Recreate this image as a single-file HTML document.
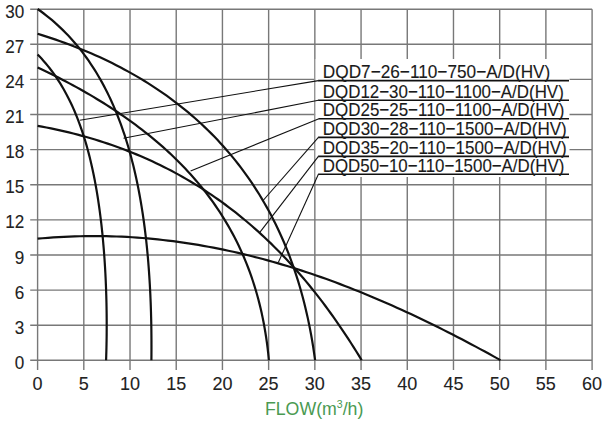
<!DOCTYPE html><html><head><meta charset="utf-8"><style>html,body{margin:0;padding:0;background:#fff;overflow:hidden}svg{display:block}text{font-family:"Liberation Sans",sans-serif}</style></head><body>
<svg width="606" height="422" viewBox="0 0 606 422">
<rect width="606" height="422" fill="#fff"/>
<path d="M37.60 9.20V369.90M83.81 9.20V369.90M130.02 9.20V369.90M176.22 9.20V369.90M222.43 9.20V369.90M268.64 9.20V369.90M314.85 9.20V369.90M361.06 9.20V369.90M407.27 9.20V369.90M453.48 9.20V369.90M499.68 9.20V369.90M545.89 9.20V369.90M592.10 9.20V369.90M30.20 360.30H592.10M30.20 325.19H592.10M30.20 290.08H592.10M30.20 254.97H592.10M30.20 219.86H592.10M30.20 184.75H592.10M30.20 149.64H592.10M30.20 114.53H592.10M30.20 79.42H592.10M30.20 44.31H592.10M30.20 9.20H592.10" stroke="#787878" stroke-width="1.4" fill="none"/>
<path d="M37.60 9.00 L40.43 11.02 L43.43 13.25 L46.37 15.53 L49.26 17.85 L52.10 20.21 L54.88 22.62 L57.61 25.08 L60.29 27.57 L62.92 30.11 L65.49 32.69 L68.02 35.32 L70.50 37.98 L72.93 40.69 L75.31 43.44 L77.64 46.22 L79.93 49.05 L82.17 51.92 L84.36 54.82 L86.51 57.76 L88.61 60.74 L90.67 63.76 L92.69 66.81 L94.66 69.90 L96.59 73.03 L98.47 76.19 L100.32 79.39 L102.12 82.62 L103.88 85.88 L105.61 89.18 L107.29 92.52 L108.93 95.88 L110.54 99.28 L112.10 102.71 L113.63 106.18 L115.12 109.67 L116.57 113.19 L117.99 116.75 L119.37 120.34 L120.72 123.95 L122.03 127.60 L123.30 131.27 L124.55 134.97 L125.75 138.70 L126.93 142.46 L128.07 146.25 L129.18 150.06 L130.25 153.90 L131.30 157.77 L132.31 161.67 L133.30 165.59 L134.25 169.53 L135.17 173.50 L136.07 177.50 L136.93 181.52 L137.76 185.56 L138.57 189.63 L139.35 193.72 L140.10 197.84 L140.82 201.97 L141.52 206.13 L142.19 210.32 L142.83 214.52 L143.45 218.75 L144.04 223.00 L144.61 227.27 L145.15 231.56 L145.66 235.87 L146.16 240.20 L146.63 244.55 L147.07 248.92 L147.49 253.31 L147.89 257.72 L148.27 262.15 L148.62 266.60 L148.95 271.07 L149.26 275.55 L149.55 280.06 L149.82 284.58 L150.06 289.11 L150.29 293.67 L150.49 298.24 L150.68 302.83 L150.84 307.44 L150.99 312.06 L151.11 316.70 L151.22 321.36 L151.31 326.03 L151.37 330.71 L151.42 335.42 L151.46 340.13 L151.47 344.87 L151.47 349.61 L151.45 354.38 L151.41 359.15 L151.40 360.20" stroke="#111" stroke-width="2.2" fill="none" stroke-linejoin="round" stroke-linecap="butt"/>
<path d="M37.60 33.81 L41.90 35.14 L46.52 36.61 L51.11 38.11 L55.67 39.65 L60.20 41.23 L64.70 42.85 L69.16 44.50 L73.60 46.19 L78.00 47.92 L82.37 49.68 L86.71 51.49 L91.02 53.33 L95.30 55.20 L99.54 57.12 L103.76 59.08 L107.94 61.07 L112.09 63.10 L116.20 65.17 L120.28 67.28 L124.33 69.43 L128.35 71.62 L132.34 73.84 L136.29 76.11 L140.20 78.42 L144.08 80.77 L147.93 83.16 L151.75 85.59 L155.53 88.06 L159.27 90.57 L162.98 93.12 L166.66 95.72 L170.30 98.35 L173.90 101.03 L177.47 103.76 L181.00 106.52 L184.50 109.33 L187.96 112.18 L191.38 115.08 L194.77 118.02 L198.11 121.00 L201.43 124.03 L204.70 127.11 L207.93 130.23 L211.13 133.39 L214.29 136.60 L217.41 139.86 L220.49 143.17 L223.53 146.52 L226.53 149.92 L229.49 153.36 L232.41 156.86 L235.29 160.40 L238.13 163.99 L240.93 167.64 L243.68 171.33 L246.40 175.07 L249.07 178.86 L251.70 182.70 L254.28 186.59 L256.83 190.54 L259.33 194.53 L261.78 198.58 L264.19 202.69 L266.56 206.84 L268.88 211.05 L271.16 215.31 L273.39 219.63 L275.57 224.00 L277.71 228.43 L279.80 232.91 L281.84 237.45 L283.84 242.05 L285.79 246.70 L287.69 251.41 L289.54 256.18 L291.34 261.01 L293.09 265.90 L294.79 270.84 L296.45 275.85 L298.05 280.92 L299.59 286.05 L301.09 291.24 L302.54 296.49 L303.93 301.81 L305.27 307.19 L306.56 312.63 L307.79 318.13 L308.97 323.71 L310.09 329.34 L311.16 335.05 L312.17 340.81 L313.12 346.65 L314.02 352.56 L314.86 358.53 L315.09 360.20" stroke="#111" stroke-width="2.2" fill="none" stroke-linejoin="round" stroke-linecap="butt"/>
<path d="M37.60 54.49 L39.61 56.57 L41.73 58.84 L43.80 61.15 L45.82 63.50 L47.78 65.88 L49.70 68.29 L51.57 70.74 L53.39 73.22 L55.17 75.73 L56.90 78.27 L58.58 80.85 L60.23 83.45 L61.83 86.09 L63.39 88.75 L64.91 91.45 L66.38 94.17 L67.82 96.92 L69.23 99.69 L70.59 102.49 L71.92 105.32 L73.21 108.17 L74.47 111.05 L75.69 113.95 L76.88 116.87 L78.03 119.82 L79.15 122.79 L80.25 125.78 L81.31 128.79 L82.34 131.83 L83.34 134.88 L84.31 137.96 L85.26 141.05 L86.18 144.16 L87.07 147.30 L87.93 150.45 L88.77 153.62 L89.58 156.80 L90.37 160.01 L91.13 163.23 L91.87 166.47 L92.59 169.72 L93.29 172.99 L93.96 176.28 L94.61 179.58 L95.24 182.89 L95.85 186.22 L96.44 189.56 L97.01 192.92 L97.56 196.29 L98.09 199.68 L98.60 203.07 L99.09 206.49 L99.57 209.91 L100.03 213.34 L100.47 216.79 L100.89 220.25 L101.30 223.72 L101.69 227.21 L102.06 230.70 L102.42 234.20 L102.76 237.72 L103.09 241.25 L103.40 244.78 L103.70 248.33 L103.98 251.89 L104.25 255.46 L104.50 259.04 L104.74 262.63 L104.97 266.23 L105.18 269.83 L105.38 273.45 L105.56 277.08 L105.73 280.72 L105.88 284.37 L106.03 288.02 L106.15 291.69 L106.27 295.36 L106.37 299.05 L106.46 302.74 L106.53 306.45 L106.59 310.16 L106.64 313.88 L106.67 317.62 L106.69 321.36 L106.70 325.11 L106.69 328.87 L106.67 332.64 L106.64 336.42 L106.59 340.21 L106.52 344.02 L106.44 347.83 L106.35 351.65 L106.24 355.48 L106.12 359.32 L106.09 360.20" stroke="#111" stroke-width="2.2" fill="none" stroke-linejoin="round" stroke-linecap="butt"/>
<path d="M37.60 67.45 L40.93 69.02 L44.55 70.75 L48.14 72.49 L51.73 74.26 L55.29 76.04 L58.84 77.84 L62.38 79.66 L65.90 81.50 L69.40 83.36 L72.89 85.24 L76.36 87.13 L79.81 89.05 L83.25 90.99 L86.67 92.95 L90.07 94.92 L93.45 96.92 L96.82 98.95 L100.17 100.99 L103.50 103.05 L106.81 105.14 L110.10 107.25 L113.37 109.38 L116.63 111.54 L119.86 113.72 L123.08 115.92 L126.27 118.15 L129.44 120.40 L132.59 122.68 L135.72 124.98 L138.83 127.31 L141.91 129.67 L144.97 132.05 L148.01 134.46 L151.03 136.90 L154.02 139.37 L156.99 141.87 L159.93 144.39 L162.85 146.95 L165.74 149.53 L168.61 152.15 L171.45 154.80 L174.26 157.48 L177.05 160.19 L179.80 162.94 L182.53 165.72 L185.23 168.54 L187.90 171.39 L190.54 174.28 L193.15 177.20 L195.73 180.16 L198.28 183.15 L200.79 186.19 L203.28 189.26 L205.73 192.38 L208.14 195.53 L210.52 198.73 L212.87 201.97 L215.18 205.25 L217.45 208.57 L219.69 211.94 L221.89 215.35 L224.05 218.81 L226.17 222.31 L228.26 225.86 L230.30 229.46 L232.30 233.11 L234.26 236.80 L236.18 240.55 L238.05 244.35 L239.89 248.20 L241.67 252.10 L243.41 256.06 L245.11 260.07 L246.76 264.14 L248.36 268.26 L249.92 272.44 L251.42 276.68 L252.88 280.98 L254.28 285.34 L255.64 289.76 L256.94 294.24 L258.19 298.79 L259.38 303.39 L260.52 308.07 L261.61 312.81 L262.63 317.62 L263.61 322.49 L264.52 327.44 L265.37 332.45 L266.17 337.54 L266.90 342.69 L267.58 347.93 L268.19 353.23 L268.73 358.61 L268.88 360.20" stroke="#111" stroke-width="2.2" fill="none" stroke-linejoin="round" stroke-linecap="butt"/>
<path d="M37.60 125.87 L41.87 126.65 L46.44 127.52 L50.98 128.43 L55.50 129.38 L59.99 130.36 L64.45 131.38 L68.89 132.44 L73.31 133.53 L77.69 134.66 L82.05 135.83 L86.39 137.04 L90.70 138.28 L94.98 139.56 L99.24 140.87 L103.47 142.23 L107.68 143.62 L111.86 145.04 L116.01 146.51 L120.14 148.01 L124.24 149.54 L128.32 151.12 L132.37 152.73 L136.39 154.38 L140.39 156.06 L144.37 157.78 L148.32 159.54 L152.24 161.33 L156.14 163.16 L160.01 165.02 L163.86 166.93 L167.68 168.87 L171.47 170.84 L175.24 172.85 L178.99 174.90 L182.71 176.98 L186.41 179.10 L190.08 181.25 L193.72 183.44 L197.34 185.67 L200.94 187.93 L204.51 190.23 L208.05 192.56 L211.58 194.92 L215.07 197.33 L218.55 199.76 L221.99 202.23 L225.42 204.74 L228.82 207.28 L232.19 209.86 L235.54 212.47 L238.87 215.11 L242.17 217.79 L245.45 220.50 L248.71 223.25 L251.94 226.03 L255.15 228.84 L258.34 231.69 L261.50 234.57 L264.64 237.48 L267.75 240.43 L270.85 243.41 L273.92 246.42 L276.96 249.46 L279.99 252.54 L282.99 255.65 L285.97 258.79 L288.93 261.96 L291.86 265.16 L294.78 268.40 L297.67 271.66 L300.54 274.96 L303.39 278.29 L306.21 281.65 L309.02 285.04 L311.80 288.46 L314.56 291.91 L317.31 295.39 L320.03 298.90 L322.73 302.44 L325.41 306.01 L328.07 309.60 L330.71 313.23 L333.33 316.89 L335.93 320.57 L338.51 324.28 L341.07 328.02 L343.61 331.79 L346.13 335.58 L348.63 339.40 L351.12 343.25 L353.58 347.12 L356.03 351.03 L358.46 354.95 L360.87 358.91 L361.65 360.20" stroke="#111" stroke-width="2.2" fill="none" stroke-linejoin="round" stroke-linecap="butt"/>
<path d="M37.60 238.69 L42.59 238.24 L47.96 237.81 L53.31 237.43 L58.65 237.10 L63.98 236.81 L69.30 236.57 L74.60 236.38 L79.89 236.24 L85.17 236.14 L90.43 236.08 L95.69 236.08 L100.93 236.12 L106.16 236.20 L111.37 236.32 L116.58 236.50 L121.77 236.71 L126.96 236.97 L132.13 237.27 L137.29 237.62 L142.43 238.00 L147.57 238.43 L152.70 238.90 L157.81 239.41 L162.92 239.97 L168.01 240.56 L173.09 241.19 L178.16 241.87 L183.22 242.58 L188.27 243.33 L193.31 244.12 L198.34 244.95 L203.36 245.82 L208.37 246.72 L213.37 247.66 L218.36 248.64 L223.34 249.66 L228.31 250.71 L233.27 251.80 L238.22 252.92 L243.16 254.08 L248.09 255.28 L253.01 256.51 L257.93 257.77 L262.83 259.06 L267.72 260.39 L272.61 261.76 L277.49 263.15 L282.36 264.58 L287.22 266.04 L292.07 267.53 L296.91 269.06 L301.75 270.61 L306.58 272.20 L311.39 273.81 L316.21 275.46 L321.01 277.13 L325.80 278.83 L330.59 280.57 L335.37 282.33 L340.14 284.12 L344.91 285.93 L349.66 287.78 L354.41 289.65 L359.16 291.55 L363.89 293.47 L368.62 295.42 L373.34 297.40 L378.06 299.40 L382.77 301.43 L387.47 303.48 L392.17 305.55 L396.86 307.65 L401.54 309.77 L406.22 311.92 L410.89 314.09 L415.55 316.28 L420.21 318.49 L424.86 320.72 L429.51 322.98 L434.15 325.26 L438.79 327.55 L443.42 329.87 L448.04 332.21 L452.66 334.57 L457.28 336.94 L461.89 339.34 L466.49 341.75 L471.09 344.19 L475.69 346.63 L480.28 349.10 L484.86 351.59 L489.44 354.09 L494.02 356.61 L498.59 359.14 L500.50 360.20" stroke="#111" stroke-width="2.2" fill="none" stroke-linejoin="round" stroke-linecap="butt"/>
<rect x="315.3" y="59" width="254.2" height="118" fill="#fff"/>
<path d="M314.8 59V177" stroke="#9a9a9a" stroke-width="1.0"/>
<path d="M79.8 120.3L318.4 80.6" stroke="#111" stroke-width="1.1" fill="none"/>
<path d="M318.09999999999997 80.6H569.0" stroke="#111" stroke-width="1.6" fill="none"/>
<text x="322.8" y="78.00" font-size="18.2" fill="#1a1a1a" stroke="#1a1a1a" stroke-width="0.12" textLength="227.5" lengthAdjust="spacingAndGlyphs">DQD7−26−110−750−A/D(HV)</text>
<path d="M123.5 138.3L318.4 100.3" stroke="#111" stroke-width="1.1" fill="none"/>
<path d="M318.09999999999997 100.3H569.0" stroke="#111" stroke-width="1.6" fill="none"/>
<text x="322.8" y="97.70" font-size="18.2" fill="#1a1a1a" stroke="#1a1a1a" stroke-width="0.12" textLength="241" lengthAdjust="spacingAndGlyphs">DQD12−30−110−1100−A/D(HV)</text>
<path d="M190.6 171L318.9 118.8" stroke="#111" stroke-width="1.1" fill="none"/>
<path d="M318.59999999999997 118.8H569.0" stroke="#111" stroke-width="1.6" fill="none"/>
<text x="322.8" y="116.20" font-size="18.2" fill="#1a1a1a" stroke="#1a1a1a" stroke-width="0.12" textLength="241.6" lengthAdjust="spacingAndGlyphs">DQD25−25−110−1100−A/D(HV)</text>
<path d="M263.1 200.5L318.4 137.4" stroke="#111" stroke-width="1.1" fill="none"/>
<path d="M318.09999999999997 137.4H569.0" stroke="#111" stroke-width="1.6" fill="none"/>
<text x="322.8" y="134.80" font-size="18.2" fill="#1a1a1a" stroke="#1a1a1a" stroke-width="0.12" textLength="244" lengthAdjust="spacingAndGlyphs">DQD30−28−110−1500−A/D(HV)</text>
<path d="M259.8 232.3L318.4 156.4" stroke="#111" stroke-width="1.1" fill="none"/>
<path d="M318.09999999999997 156.4H569.0" stroke="#111" stroke-width="1.6" fill="none"/>
<text x="322.8" y="153.80" font-size="18.2" fill="#1a1a1a" stroke="#1a1a1a" stroke-width="0.12" textLength="244" lengthAdjust="spacingAndGlyphs">DQD35−20−110−1500−A/D(HV)</text>
<path d="M278.3 262.5L318.4 174.3" stroke="#111" stroke-width="1.1" fill="none"/>
<path d="M318.09999999999997 174.3H569.0" stroke="#111" stroke-width="1.6" fill="none"/>
<text x="322.8" y="171.70" font-size="18.2" fill="#1a1a1a" stroke="#1a1a1a" stroke-width="0.12" textLength="241.6" lengthAdjust="spacingAndGlyphs">DQD50−10−110−1500−A/D(HV)</text>
<text transform="translate(24.2 368.90) scale(0.95 1)" font-size="18" fill="#222" stroke="#222" stroke-width="0.1" text-anchor="end">0</text>
<text transform="translate(24.2 333.79) scale(0.95 1)" font-size="18" fill="#222" stroke="#222" stroke-width="0.1" text-anchor="end">3</text>
<text transform="translate(24.2 298.68) scale(0.95 1)" font-size="18" fill="#222" stroke="#222" stroke-width="0.1" text-anchor="end">6</text>
<text transform="translate(24.2 263.57) scale(0.95 1)" font-size="18" fill="#222" stroke="#222" stroke-width="0.1" text-anchor="end">9</text>
<text transform="translate(24.2 228.46) scale(0.95 1)" font-size="18" fill="#222" stroke="#222" stroke-width="0.1" text-anchor="end">12</text>
<text transform="translate(24.2 193.35) scale(0.95 1)" font-size="18" fill="#222" stroke="#222" stroke-width="0.1" text-anchor="end">15</text>
<text transform="translate(24.2 158.24) scale(0.95 1)" font-size="18" fill="#222" stroke="#222" stroke-width="0.1" text-anchor="end">18</text>
<text transform="translate(24.2 123.13) scale(0.95 1)" font-size="18" fill="#222" stroke="#222" stroke-width="0.1" text-anchor="end">21</text>
<text transform="translate(24.2 88.02) scale(0.95 1)" font-size="18" fill="#222" stroke="#222" stroke-width="0.1" text-anchor="end">24</text>
<text transform="translate(24.2 52.91) scale(0.95 1)" font-size="18" fill="#222" stroke="#222" stroke-width="0.1" text-anchor="end">27</text>
<text transform="translate(24.2 17.80) scale(0.95 1)" font-size="18" fill="#222" stroke="#222" stroke-width="0.1" text-anchor="end">30</text>
<text x="37.60" y="390.3" font-size="18" fill="#222" stroke="#222" stroke-width="0.1" text-anchor="middle">0</text>
<text x="83.81" y="390.3" font-size="18" fill="#222" stroke="#222" stroke-width="0.1" text-anchor="middle">5</text>
<text x="130.02" y="390.3" font-size="18" fill="#222" stroke="#222" stroke-width="0.1" text-anchor="middle">10</text>
<text x="176.22" y="390.3" font-size="18" fill="#222" stroke="#222" stroke-width="0.1" text-anchor="middle">15</text>
<text x="222.43" y="390.3" font-size="18" fill="#222" stroke="#222" stroke-width="0.1" text-anchor="middle">20</text>
<text x="268.64" y="390.3" font-size="18" fill="#222" stroke="#222" stroke-width="0.1" text-anchor="middle">25</text>
<text x="314.85" y="390.3" font-size="18" fill="#222" stroke="#222" stroke-width="0.1" text-anchor="middle">30</text>
<text x="361.06" y="390.3" font-size="18" fill="#222" stroke="#222" stroke-width="0.1" text-anchor="middle">35</text>
<text x="407.27" y="390.3" font-size="18" fill="#222" stroke="#222" stroke-width="0.1" text-anchor="middle">40</text>
<text x="453.48" y="390.3" font-size="18" fill="#222" stroke="#222" stroke-width="0.1" text-anchor="middle">45</text>
<text x="499.68" y="390.3" font-size="18" fill="#222" stroke="#222" stroke-width="0.1" text-anchor="middle">50</text>
<text x="545.89" y="390.3" font-size="18" fill="#222" stroke="#222" stroke-width="0.1" text-anchor="middle">55</text>
<text x="592.10" y="390.3" font-size="18" fill="#222" stroke="#222" stroke-width="0.1" text-anchor="middle">60</text>
<text x="264.9" y="414.8" font-size="18.5" fill="#4a9a52" textLength="98.5" lengthAdjust="spacingAndGlyphs">FLOW(m<tspan font-size="11" dy="-6.5">3</tspan><tspan dy="6.5">/h)</tspan></text>
</svg></body></html>
